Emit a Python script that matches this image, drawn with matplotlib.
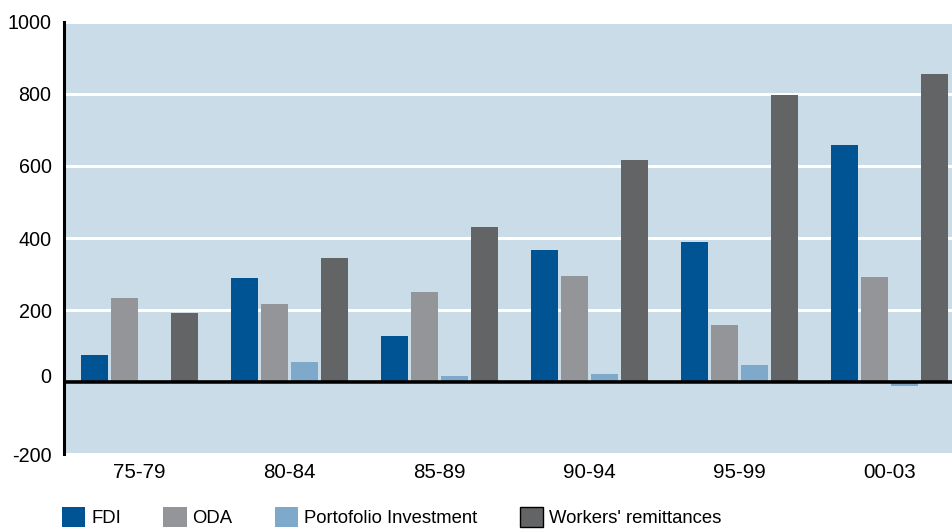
import matplotlib
matplotlib.use("Agg")
import matplotlib.pyplot as plt
import matplotlib.transforms as mtransforms
import numpy as np

plt.rcParams["font.family"] = ["Liberation Sans", "DejaVu Sans"]
plt.rcParams["axes.unicode_minus"] = False

periods = ["75-79", "80-84", "85-89", "90-94", "95-99", "00-03"]
fdi = [75, 288, 128, 366, 390, 657]
oda = [233, 216, 250, 294, 160, 293]
portfolio = [-3, 56, 17, 23, 47, -11]
remittances = [191, 344, 432, 617, 798, 854]

series = [
    ("FDI", fdi, "#005494"),
    ("ODA", oda, "#939598"),
    ("Portofolio Investment", portfolio, "#7fa9cb"),
    ("Workers' remittances", remittances, "#636466"),
]

fig = plt.figure(figsize=(9.52, 5.29), dpi=100)
# axes run a little past the right edge of the figure
ax = fig.add_axes([64 / 952, 1 - 454.3 / 529, 900.5 / 952, (454.3 - 21.8) / 529])
ax.set_facecolor("#cadce8")

x = np.arange(len(periods))
step, width = 0.2, 0.18
for j, (name, vals, color) in enumerate(series):
    ax.bar(x + (j - 1.5) * step, vals, width, color=color, label=name, zorder=3)

ax.set_xlim(-0.5, 5.5)
ax.set_ylim(-200, 1000)
ax.set_yticks([-200, 0, 200, 400, 600, 800, 1000])
ax.set_xticks(x)
ax.set_xticklabels(periods)
ax.grid(axis="y", color="white", lw=2.2, zorder=1)
ax.axhline(0, color="black", lw=2.6, zorder=4)

for side in ["top", "right", "bottom"]:
    ax.spines[side].set_visible(False)
ax.spines["left"].set_linewidth(2.2)
ax.spines["left"].set_zorder(5)
ax.tick_params(axis="both", length=0, colors="black")
ax.tick_params(axis="y", pad=9, labelsize=14.2)
ax.tick_params(axis="x", pad=6, labelsize=14.8)

# the zero label sits slightly above its line
for lbl in ax.get_yticklabels():
    if lbl.get_text() == "0":
        lbl.set_transform(lbl.get_transform()
                          + mtransforms.ScaledTranslation(0, 7 / 100, fig.dpi_scale_trans))

leg = fig.legend(loc="upper left", bbox_to_anchor=(62 / 952, 1 - 507 / 529),
                 ncol=4, frameon=False, fontsize=13.3, borderpad=0, borderaxespad=0,
                 handlelength=1.25, handleheight=1.25, handletextpad=0.33,
                 columnspacing=2.3)
leg.legend_handles[3].set_edgecolor("black")
leg.legend_handles[3].set_linewidth(1.0)

fig.savefig("out.png", dpi=100)
